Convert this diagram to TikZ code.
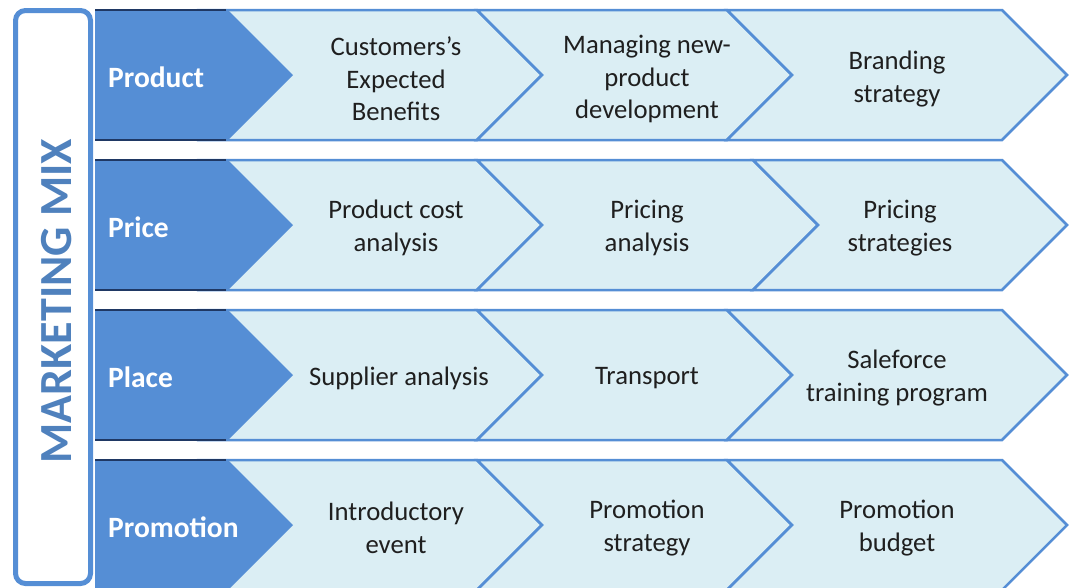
\documentclass[tikz,border=0pt]{standalone}
\usepackage{fontspec}
\setmainfont{Carlito}
\definecolor{dk}{RGB}{85,142,213}
\definecolor{lt}{RGB}{219,238,244}
\definecolor{bd}{RGB}{85,142,213}
\definecolor{tx}{RGB}{79,129,189}
\definecolor{sh}{RGB}{31,56,100}
\begin{document}
\begin{tikzpicture}[x=1pt,y=-1pt,
  chev/.style={fill=lt,draw=bd,line width=2.5pt,line join=miter},
  headshape/.style={fill=dk},
  shadowline/.style={draw=sh,line width=1.5pt},
  lab/.style={font=\fontsize{29.5}{32}\selectfont\bfseries,text=white,anchor=west,inner sep=0pt},
  itm/.style={font=\fontsize{26.7}{32.5}\selectfont,align=center,text=black!88,inner sep=0pt,yshift=-2pt}]
\path[use as bounding box] (0,0) rectangle (1069,587);
% left box
\draw[draw=bd,line width=5pt,fill=white,rounded corners=10pt] (15.5,10.5) rectangle (90.5,583.5);
\node[rotate=90,font=\fontsize{46}{50}\selectfont\bfseries,text=tx,inner sep=0pt] (mix) at (57,301) {MARKETING MIX};
% rows
\foreach \r/\sa in {0/727, 1/753, 2/727, 3/727} {
  \pgfmathsetmacro\T{10+150*\r}
  \pgfmathsetmacro\B{\T+130}
  \pgfmathsetmacro\M{\T+65}
  \path[chev] (200,\T) -- (477,\T) -- (542,\M) -- (477,\B) -- (200,\B) -- (265,\M) -- cycle;
  \path[chev] (477,\T) -- (\sa,\T) -- ({\sa+65},\M) -- (\sa,\B) -- (477,\B) -- (542,\M) -- cycle;
  \path[chev] (\sa,\T) -- (1002,\T) -- (1067,\M) -- (1002,\B) -- (\sa,\B) -- ({\sa+65},\M) -- cycle;
  \path[headshape] (95,\T) -- (228,\T) -- (293,\M) -- (228,\B) -- (95,\B) -- cycle;
  \draw[shadowline] (95,\T) -- (226,\T);
  \draw[shadowline] (95,\B) -- (226,\B);
}
% labels
\node[lab] (l1) at (108,77) {Product};
\node[lab] (l2) at (108,227) {Price};
\node[lab] (l3) at (108,377) {Place};
\node[lab] (l4) at (108,527) {Promotion};
% items
\node[itm] (a1) at (396,77) {Customers’s\\Expected\\Benefits};
\node[itm] (b1) at (647,77) {Managing new-\\product\\development};
\node[itm] (c1) at (897,77) {Branding\\strategy};
\node[itm] (a2) at (396,226) {Product cost\\analysis};
\node[itm] (b2) at (647,226) {Pricing\\analysis};
\node[itm] (c2) at (900,226) {Pricing\\strategies};
\node[itm] (a3) at (399,376) {Supplier analysis};
\node[itm] (b3) at (647,376) {Transport};
\node[itm] (c3) at (897,376) {Saleforce\\training program};
\node[itm] (a4) at (396,526) {Introductory\\event};
\node[itm] (b4) at (647,526) {Promotion\\strategy};
\node[itm] (c4) at (897,526) {Promotion\\budget};
\end{tikzpicture}
\end{document}
